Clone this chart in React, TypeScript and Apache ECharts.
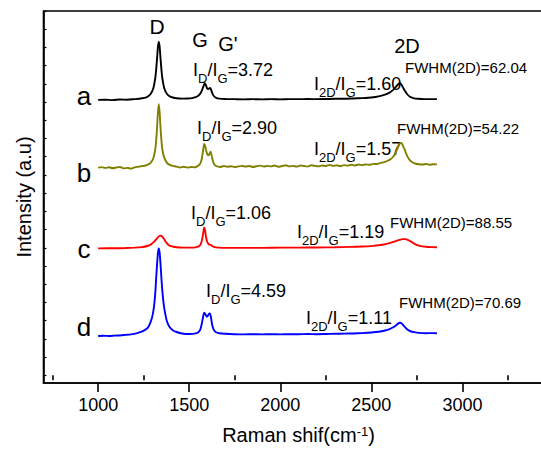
import React, { useEffect, useRef } from "react";
import * as echarts from "echarts";

const FONT = "'Liberation Sans', Arial, Helvetica, sans-serif";

const xMajorTicks = [1000, 1500, 2000, 2500, 3000, 3500];
const xTickLabels = [1000, 1500, 2000, 2500, 3000];
const xMinorTicks = [750, 1250, 1750, 2250, 2750, 3250];
const yTicks = [0, 1, 2, 3, 4, 5, 6, 7, 8, 9, 10, 11, 12, 13, 14, 15, 16, 17, 18, 19, 20];

const xTitle = "Raman shif(cm";
const xTitleSup = "-1";
const yTitle = "Intensity (a.u)";

const sampleNames = ["a", "b", "c", "d"];
const sampleColors = ["#000000", "#808000", "#ff0000", "#0000ff"];
const peakNames = ["D", "G", "G'", "2D"];
const idigRatios = ["3.72", "2.90", "1.06", "4.59"];
const i2dRatios = ["1.60", "1.57", "1.19", "1.11"];
const fwhmValues = ["62.04", "54.22", "88.55", "70.69"];

const spectrumA: [number, number][] = [
  [1000, 15.12], [1040, 15.13], [1080, 15.11], [1120, 15.14], [1160, 15.13], [1200, 15.16],
  [1225, 15.18], [1243, 15.21], [1260, 15.25], [1273, 15.31], [1288, 15.44], [1303, 15.76],
  [1313, 16.27], [1318, 16.72], [1323, 17.33], [1328, 18.0], [1333, 18.32], [1338, 18.0],
  [1343, 17.33], [1348, 16.72], [1353, 16.27], [1363, 15.76], [1378, 15.44], [1393, 15.31],
  [1410, 15.25], [1430, 15.21], [1460, 15.19], [1490, 15.2], [1515, 15.22], [1535, 15.27],
  [1550, 15.35], [1562, 15.48], [1572, 15.7], [1580, 15.92], [1586, 16.04], [1592, 15.92],
  [1598, 15.76], [1604, 15.72], [1610, 15.75], [1615, 15.77], [1620, 15.68], [1627, 15.48],
  [1636, 15.32], [1648, 15.23], [1665, 15.19], [1700, 15.17], [1750, 15.16], [1800, 15.15],
  [1850, 15.16], [1900, 15.15], [1950, 15.16], [2000, 15.15], [2050, 15.16], [2100, 15.16],
  [2150, 15.17], [2200, 15.16], [2250, 15.17], [2300, 15.18], [2350, 15.18], [2400, 15.2],
  [2450, 15.22], [2500, 15.25], [2540, 15.31], [2575, 15.41], [2600, 15.52], [2620, 15.67],
  [2635, 15.84], [2647, 15.98], [2656, 16.04], [2664, 15.98], [2673, 15.82], [2684, 15.62],
  [2697, 15.43], [2712, 15.29], [2730, 15.22], [2755, 15.18], [2790, 15.16], [2830, 15.16],
  [2860, 15.16],
];

const spectrumB: [number, number][] = [
  [1000, 11.4], [1020, 11.43], [1040, 11.38], [1060, 11.42], [1080, 11.37], [1100, 11.41],
  [1120, 11.44], [1140, 11.36], [1160, 11.39], [1180, 11.35], [1200, 11.42], [1220, 11.45],
  [1243, 11.49], [1260, 11.52], [1273, 11.57], [1288, 11.66], [1303, 11.92], [1313, 12.37],
  [1318, 12.83], [1323, 13.52], [1328, 14.39], [1333, 14.88], [1338, 14.39], [1343, 13.52],
  [1348, 12.83], [1353, 12.37], [1363, 11.95], [1378, 11.66], [1393, 11.55], [1410, 11.5],
  [1430, 11.46], [1450, 11.41], [1470, 11.45], [1490, 11.4], [1510, 11.44], [1530, 11.42],
  [1548, 11.5], [1560, 11.62], [1568, 11.85], [1575, 12.25], [1582, 12.7], [1588, 12.58],
  [1594, 12.3], [1600, 12.12], [1606, 12.08], [1612, 12.18], [1618, 12.28], [1624, 12.02],
  [1632, 11.7], [1642, 11.53], [1655, 11.47], [1670, 11.44], [1690, 11.49], [1710, 11.45],
  [1730, 11.48], [1750, 11.43], [1770, 11.47], [1790, 11.5], [1810, 11.46], [1830, 11.49],
  [1850, 11.44], [1870, 11.48], [1890, 11.51], [1910, 11.46], [1930, 11.5], [1950, 11.47],
  [1970, 11.52], [1990, 11.45], [2010, 11.49], [2030, 11.53], [2050, 11.47], [2070, 11.5],
  [2090, 11.46], [2110, 11.52], [2130, 11.49], [2150, 11.46], [2170, 11.53], [2190, 11.5],
  [2210, 11.47], [2230, 11.52], [2250, 11.49], [2270, 11.55], [2290, 11.5], [2310, 11.53],
  [2330, 11.48], [2350, 11.54], [2370, 11.51], [2390, 11.56], [2410, 11.52], [2430, 11.57],
  [2450, 11.54], [2470, 11.58], [2490, 11.56], [2510, 11.61], [2530, 11.6], [2550, 11.66],
  [2570, 11.7], [2590, 11.78], [2605, 11.86], [2620, 12.0], [2633, 12.22], [2643, 12.45],
  [2652, 12.66], [2660, 12.76], [2667, 12.74], [2674, 12.58], [2682, 12.42], [2690, 12.2],
  [2700, 11.98], [2712, 11.8], [2725, 11.7], [2740, 11.63], [2760, 11.59], [2780, 11.57],
  [2800, 11.6], [2820, 11.56], [2840, 11.59], [2860, 11.58],
];

const spectrumC: [number, number][] = [
  [1000, 6.97], [1050, 6.98], [1100, 6.98], [1150, 6.99], [1200, 7.01], [1240, 7.04],
  [1270, 7.1], [1290, 7.19], [1305, 7.31], [1318, 7.46], [1330, 7.6], [1340, 7.67],
  [1350, 7.63], [1360, 7.51], [1372, 7.32], [1385, 7.17], [1400, 7.09], [1430, 7.03],
  [1470, 7.01], [1510, 7.01], [1540, 7.04], [1555, 7.1], [1565, 7.25], [1572, 7.52],
  [1578, 7.88], [1582, 8.12], [1587, 7.95], [1592, 7.62], [1598, 7.35], [1605, 7.22],
  [1612, 7.17], [1618, 7.16], [1625, 7.11], [1635, 7.05], [1660, 7.01], [1720, 7.0],
  [1800, 7.0], [1900, 7.0], [2000, 7.01], [2100, 7.01], [2200, 7.02], [2300, 7.03],
  [2380, 7.05], [2450, 7.07], [2510, 7.11], [2560, 7.17], [2600, 7.26], [2630, 7.35],
  [2655, 7.44], [2672, 7.48], [2685, 7.48], [2700, 7.44], [2718, 7.34], [2740, 7.2],
  [2765, 7.11], [2800, 7.06], [2830, 7.04], [2860, 7.03],
];

const spectrumD: [number, number][] = [
  [1000, 2.16], [1030, 2.17], [1060, 2.16], [1090, 2.18], [1120, 2.19], [1150, 2.22],
  [1180, 2.25], [1210, 2.3], [1235, 2.38], [1255, 2.48], [1273, 2.62], [1288, 2.92],
  [1300, 3.35], [1308, 3.9], [1314, 4.57], [1318, 5.24], [1323, 6.02], [1328, 6.69],
  [1333, 6.97], [1338, 6.69], [1343, 6.02], [1348, 5.24], [1353, 4.57], [1360, 3.9],
  [1368, 3.4], [1378, 2.96], [1393, 2.64], [1410, 2.48], [1430, 2.38], [1460, 2.3],
  [1500, 2.27], [1530, 2.29], [1548, 2.35], [1560, 2.5], [1568, 2.78], [1575, 3.15],
  [1582, 3.44], [1589, 3.36], [1596, 3.22], [1602, 3.26], [1608, 3.38], [1614, 3.4],
  [1620, 3.15], [1626, 2.78], [1634, 2.52], [1645, 2.38], [1665, 2.31], [1700, 2.28],
  [1750, 2.26], [1800, 2.25], [1850, 2.26], [1900, 2.25], [1950, 2.26], [2000, 2.25],
  [2050, 2.26], [2100, 2.26], [2150, 2.27], [2200, 2.26], [2250, 2.27], [2300, 2.28],
  [2350, 2.29], [2400, 2.3], [2450, 2.32], [2500, 2.35], [2540, 2.39], [2575, 2.46],
  [2600, 2.54], [2620, 2.64], [2635, 2.74], [2647, 2.84], [2656, 2.89], [2665, 2.86],
  [2675, 2.76], [2687, 2.62], [2700, 2.5], [2715, 2.42], [2735, 2.37], [2760, 2.33],
  [2800, 2.31], [2830, 2.32], [2860, 2.31],
];

const spectra = [spectrumA, spectrumB, spectrumC, spectrumD];

const ratioRich = {
  m: { fontSize: 18, fontFamily: FONT, fill: "#000", verticalAlign: "top", lineHeight: 18 },
  s: { fontSize: 13, fontFamily: FONT, fill: "#000", verticalAlign: "top", lineHeight: 13, padding: [11, 0, 0, 0] },
};

function ratioText(x: number, y: number, sub: string, value: string) {
  return {
    type: "text",
    x,
    y,
    silent: true,
    style: {
      text: `{m|I}{s|${sub}}{m|/I}{s|G}{m|=${value}}`,
      rich: ratioRich,
      align: "left",
      verticalAlign: "top",
    },
  };
}

function plainText(x: number, y: number, text: string, size: number, align = "center") {
  return {
    type: "text",
    x,
    y,
    silent: true,
    style: {
      text,
      fontSize: size,
      fontFamily: FONT,
      fill: "#000",
      align,
      verticalAlign: "middle",
    },
  };
}

export default function App() {
  const ref = useRef<HTMLDivElement>(null);

  useEffect(() => {
    if (!ref.current) return;
    const chart = echarts.init(ref.current, undefined, { renderer: "svg" });

    const ratioPos = [
      [193, 61, 314, 75],
      [197, 119, 314, 140],
      [191, 204, 297, 223],
      [206, 281.5, 306, 309],
    ];
    const fwhmPos = [
      [405, 67.5],
      [397, 128],
      [390, 222],
      [399, 302],
    ];
    const letterPos = [
      [84, 96],
      [84, 173],
      [84, 248.5],
      [84, 326.5],
    ];
    const peakPos = [
      [157, 26, 21],
      [200, 40, 20],
      [228, 43.5, 20],
      [407, 46, 20],
    ];

    const graphic: any[] = [];
    sampleNames.forEach((n, i) => {
      graphic.push(plainText(letterPos[i][0], letterPos[i][1], n, 26));
      graphic.push(ratioText(ratioPos[i][0], ratioPos[i][1], "D", idigRatios[i]));
      graphic.push(ratioText(ratioPos[i][2], ratioPos[i][3], "2D", i2dRatios[i]));
      graphic.push(plainText(fwhmPos[i][0], fwhmPos[i][1], `FWHM(2D)=${fwhmValues[i]}`, 15, "left"));
    });
    peakNames.forEach((p, i) => {
      graphic.push(plainText(peakPos[i][0], peakPos[i][1], p, peakPos[i][2]));
    });

    const axisLineStyle = { color: "#000", width: 1.6 };

    chart.setOption({
      animation: false,
      grid: {
        left: 43.5,
        top: 11,
        right: -12.5,
        bottom: 68,
        containLabel: false,
        outerBoundsMode: "none",
        show: true,
        borderColor: "#000",
        borderWidth: 1.6,
        backgroundColor: "transparent",
      },
      xAxis: [
        {
          type: "value",
          min: 700,
          max: 3500,
          position: "bottom",
          axisLine: { show: true, onZero: false, lineStyle: axisLineStyle },
          axisTick: { show: true, inside: false, length: 9, customValues: xMajorTicks, lineStyle: axisLineStyle },
          axisLabel: {
            show: true,
            customValues: xTickLabels,
            margin: 13,
            fontSize: 18,
            color: "#000",
            fontFamily: FONT,
            formatter: (v: number) => String(v),
          },
          splitLine: { show: false },
          name: `{t|${xTitle}}{s|${xTitleSup}}{t|)}`,
          nameLocation: "middle",
          nameGap: 42,
          nameTextStyle: {
            rich: {
              t: { fontSize: 20, fontFamily: FONT, color: "#000", verticalAlign: "top", lineHeight: 22 },
              s: { fontSize: 13, fontFamily: FONT, color: "#000", verticalAlign: "top", lineHeight: 13 },
            },
          },
        },
        {
          type: "value",
          min: 700,
          max: 3500,
          position: "bottom",
          axisLine: { show: false },
          axisTick: { show: true, inside: false, length: 5, customValues: xMinorTicks, lineStyle: axisLineStyle },
          axisLabel: { show: false },
          splitLine: { show: false },
        },
      ],
      yAxis: {
        type: "value",
        min: -0.42,
        max: 20,
        axisLine: { show: true, onZero: false, lineStyle: axisLineStyle },
        axisTick: { show: true, inside: true, length: 3, customValues: yTicks, lineStyle: { color: "#000", width: 1.2 } },
        axisLabel: { show: false },
        splitLine: { show: false },
        name: yTitle,
        nameLocation: "middle",
        nameGap: 10,
        nameTextStyle: { fontSize: 20, fontFamily: FONT, color: "#000" },
      },
      series: spectra.map((d, i) => ({
        type: "line",
        name: sampleNames[i],
        xAxisIndex: 0,
        data: d,
        showSymbol: false,
        smooth: 0.2,
        lineStyle: { color: sampleColors[i], width: 1.9 },
        itemStyle: { color: sampleColors[i] },
        z: 3,
      })),
      graphic,
    });

    return () => chart.dispose();
  }, []);

  return (
    <div
      ref={ref}
      style={{ position: "fixed", left: 0, top: 0, width: 541, height: 451, background: "#fff" }}
    />
  );
}
